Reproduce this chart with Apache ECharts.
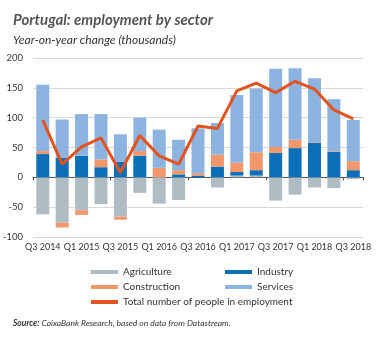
<!DOCTYPE html>
<html>
<head>
<meta charset="utf-8">
<script src="https://cdn.jsdelivr.net/npm/echarts@6/dist/echarts.min.js"></script>
<style>
html,body{margin:0;padding:0;background:#fff;}
#chart{width:379px;height:338px;}
</style>
</head>
<body>
<div id="chart"></div>
<script>
var categories = ['Q3 2014','Q4 2014','Q1 2015','Q2 2015','Q3 2015','Q4 2015','Q1 2016','Q2 2016','Q3 2016','Q4 2016','Q1 2017','Q2 2017','Q3 2017','Q4 2017','Q1 2018','Q2 2018','Q3 2018'];
var agriculture = [-62, -76, -55, -45, -66, -26, -44, -38, 0, -17, 3, 3, -39, -29, -17, -18, -3];
var industry = [39, 33, 36, 17, 26, 36, 0, 5, 3, 18, 6, 9, 41, 49, 58, 43, 12];
var construction = [5, -8, -8, 13, -5, 8, 16, 7, 4, 20, 16, 30, 10, 14, 1, 1, 15];
var services = [111, 64, 70, 76, 46, 56, 64, 51, 75, 53, 113, 107, 131, 120, 107, 87, 69];
var total = [96, 22, 51, 66, 8, 70, 36, 22, 86, 82, 145, 158, 142, 161, 148, 113, 98];
var yTicks = [-100, -50, 0, 50, 100, 150, 200];

var FONT = 'Lato';
var chart = echarts.init(document.getElementById('chart'), null, {renderer: 'canvas'});
var legendText = {fontFamily: FONT, fontSize: 10, color: '#333', lineHeight: 12};
chart.setOption({
  animation: false,
  textStyle: {fontFamily: FONT},
  title: [
    {text: 'Portugal: employment by sector', left: 8, top: 8,
     textStyle: {fontFamily: FONT, fontSize: 15, fontWeight: 'bold', fontStyle: 'italic', color: '#555'}},
    {text: 'Year-on-year change (thousands)', left: 8, top: 29,
     textStyle: {fontFamily: FONT, fontSize: 12, fontWeight: 'normal', fontStyle: 'italic', color: '#333'}},
    {text: '{b|Source:} CaixaBank Research, based on data from Datastream.', left: 8, top: 314,
     textStyle: {fontFamily: FONT, fontSize: 8.5, fontStyle: 'italic', fontWeight: 'normal', color: '#333',
       rich: {b: {fontFamily: FONT, fontSize: 8.5, fontStyle: 'italic', fontWeight: 'bold', color: '#333'}}}}
  ],
  legend: [
    {data: ['Agriculture', 'Construction', 'Total number of people in employment'],
     orient: 'vertical', left: 86, top: 261, itemWidth: 27, itemHeight: 4, itemGap: 3,
     icon: 'rect', textStyle: legendText},
    {data: ['Industry', 'Services'],
     orient: 'vertical', left: 220, top: 261, itemWidth: 27, itemHeight: 4, itemGap: 3,
     icon: 'rect', textStyle: legendText}
  ],
  grid: {left: 33, right: 16, top: 58, bottom: 101, containLabel: false},
  xAxis: [
    {type: 'category', data: categories, position: 'bottom',
     axisLine: {onZero: true, lineStyle: {color: '#555', width: 1}},
     axisTick: {show: true, length: 3, lineStyle: {color: '#555'}},
     axisLabel: {show: false}, splitLine: {show: false}},
    {type: 'category', data: categories, position: 'bottom',
     axisLine: {show: false, onZero: false}, axisTick: {show: false},
     axisLabel: {show: true, interval: 1, showMinLabel: true, showMaxLabel: true, hideOverlap: false,
                 fontFamily: FONT, fontSize: 9, color: '#333', margin: 6},
     splitLine: {show: false}}
  ],
  yAxis: {
    type: 'value', min: yTicks[0], max: yTicks[yTicks.length - 1], interval: 50,
    axisLine: {show: false}, axisTick: {show: false},
    axisLabel: {fontFamily: FONT, fontSize: 9.5, color: '#333', margin: 10},
    splitLine: {lineStyle: {color: '#d9d9d9', width: 1}}
  },
  series: [
    {name: 'Agriculture', type: 'bar', stack: 's', data: agriculture, barWidth: 13,
     itemStyle: {color: '#b0bcc3'}},
    {name: 'Industry', type: 'bar', stack: 's', data: industry, barWidth: 13,
     itemStyle: {color: '#0a6fb7'}},
    {name: 'Construction', type: 'bar', stack: 's', data: construction, barWidth: 13,
     itemStyle: {color: '#f2976c'}},
    {name: 'Services', type: 'bar', stack: 's', data: services, barWidth: 13,
     itemStyle: {color: '#8db3e0'}},
    {name: 'Total number of people in employment', type: 'line', data: total,
     symbol: 'none', z: 5, lineStyle: {color: '#e2541f', width: 3}, itemStyle: {color: '#e2541f'}}
  ]
});
</script>
</body>
</html>
